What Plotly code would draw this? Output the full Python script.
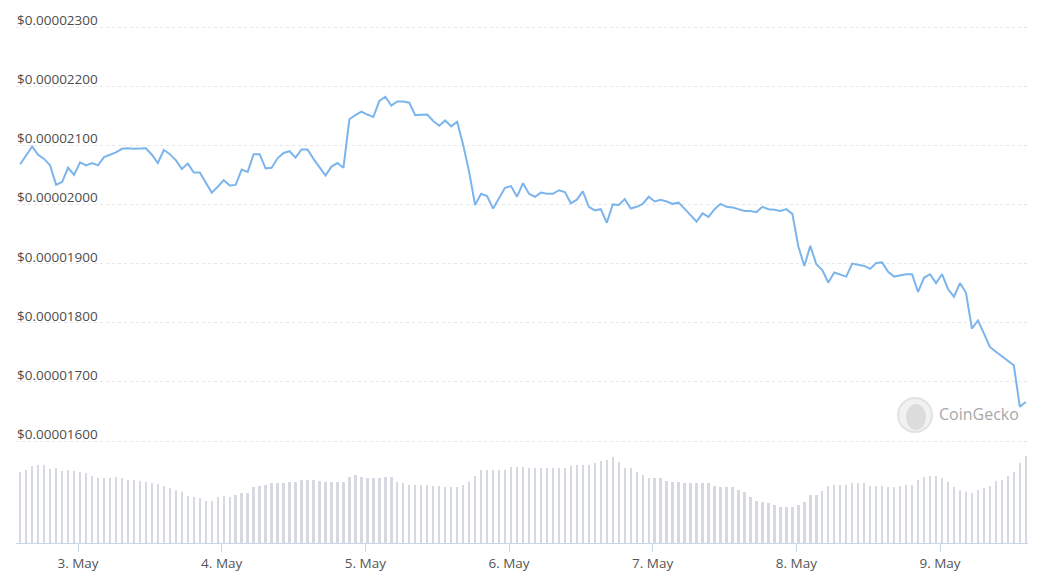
import pandas as pd
import plotly.graph_objects as go

# ---- data (price in units of 1e-8 USD, hourly) ----
start_time = "2022-05-02 14:20"
price_e8 = [
    2068, 2082, 2098, 2084, 2077, 2066, 2033, 2038, 2062, 2050,
    2071, 2066, 2070, 2066, 2080, 2084, 2088, 2094, 2095, 2094,
    2094, 2095, 2084, 2070, 2092, 2085, 2075, 2060, 2069, 2054,
    2054, 2038, 2020, 2030, 2041, 2032, 2033, 2059, 2055, 2085,
    2085, 2061, 2062, 2078, 2087, 2090, 2079, 2093, 2093, 2077,
    2062, 2049, 2064, 2070, 2062, 2144, 2151, 2157, 2152, 2148,
    2175, 2182, 2167, 2174, 2174, 2172, 2151, 2151, 2152, 2141,
    2133, 2142, 2132, 2140, 2101, 2055, 1999, 2018, 2014, 1993,
    2010, 2028, 2031, 2013, 2036, 2018, 2013, 2020, 2018, 2018,
    2024, 2021, 2002, 2008, 2022, 1996, 1990, 1992, 1969, 2000,
    1999, 2009, 1993, 1996, 2001, 2013, 2005, 2008, 2005, 2001,
    2003, 1993, 1982, 1971, 1985, 1979, 1992, 2001, 1996, 1995,
    1992, 1989, 1989, 1987, 1996, 1992, 1991, 1989, 1992, 1984,
    1929, 1896, 1930, 1899, 1889, 1868, 1885, 1882, 1878, 1900,
    1898, 1896, 1891, 1901, 1902, 1886, 1878, 1880, 1882, 1882,
    1852, 1876, 1882, 1867, 1882, 1857, 1844, 1867, 1851, 1790,
    1804, 1782, 1759, 1751, 1743, 1735, 1728, 1658, 1666,
]
volume_rel = [
    71, 73.3, 77.3, 78.3, 78.3, 73.7, 74.7, 72.3, 73.3, 72.3,
    71.3, 69.7, 67.3, 65, 65, 65, 66, 64.7, 63.3, 63.3,
    62.3, 61, 60, 59, 57.3, 54.7, 52.7, 51.3, 47.3, 46,
    45, 42.3, 42.3, 46, 47.3, 46, 48.3, 50, 50, 56,
    57.3, 58.3, 60, 60, 60, 61, 61, 63.3, 63.3, 63.3,
    62.3, 61, 61, 61, 61, 66, 68.3, 66, 64.7, 64.7,
    64.7, 66, 66, 61, 59.7, 58.3, 58.3, 58.3, 58.3, 57.3,
    57.3, 56, 56, 56, 58.3, 61, 67.3, 73.3, 73.3, 73.3,
    73.3, 73.3, 76, 76, 76, 74.7, 74.7, 74.7, 74.7, 74.7,
    74.7, 74.7, 77.3, 78.3, 78.3, 78.3, 79.7, 82.3, 83.3, 86,
    81, 74.7, 74.7, 71, 68.3, 64.7, 64.7, 64.7, 62.3, 61,
    61, 59.7, 59.7, 59.7, 59.7, 59.7, 57.3, 56, 56, 56,
    53.3, 51, 46, 42.3, 41, 40, 38.3, 36, 36, 36,
    38.3, 41, 48.3, 48.3, 52.3, 57.3, 58.3, 58.3, 58.3, 59.7,
    59.7, 59.7, 57.3, 57.3, 57.3, 56, 56, 57.3, 58.3, 58.3,
    63.3, 66, 67.3, 67.3, 64.7, 61, 56, 53.3, 51, 50,
    53.3, 54.7, 57.3, 62.3, 63.3, 67.3, 71, 79.7, 87.3,
]
price_ticks_e8 = [1600, 1700, 1800, 1900, 2000, 2100, 2200, 2300]
x_ticks = ["2022-05-03", "2022-05-04", "2022-05-05", "2022-05-06",
           "2022-05-07", "2022-05-08", "2022-05-09"]

times = pd.date_range(start_time, periods=len(price_e8), freq="h")
prices = [p * 1e-8 for p in price_e8]
tickvals = [t * 1e-8 for t in price_ticks_e8]
ticktext = ["${:.8f}".format(v) for v in tickvals]

# page has an 8px body margin: figure coordinates = page coordinates - 8
OFF = 8
W, H = 1042 - OFF, 575 - OFF
ML, MR, MT, MB = 16 - OFF, 14, 4, 575 - 543
plot_h = H - MT - MB
vol_h = 95
vol_frac = vol_h / plot_h

# price axis (page px): 1600 at 441, 2300 at 27
upp = 700.0 / 414.0  # units per px
y_top_page = MT + OFF
y_bot_page = 543 - vol_h
price_lo = 1600 - (y_bot_page - 441) * upp
price_hi = 2300 + (27 - y_top_page) * upp

fig = go.Figure()
fig.add_trace(go.Bar(
    x=times, y=volume_rel, yaxis="y2",
    marker=dict(color="#d6d9e0", line=dict(width=0)),
    width=0.4 * 3600 * 1000, hoverinfo="skip",
))
fig.add_trace(go.Scatter(
    x=times, y=prices, mode="lines",
    line=dict(color="#7cb5ec", width=2),
))

fig.update_layout(
    width=W, height=H,
    margin=dict(l=ML, r=MR, t=MT, b=MB),
    paper_bgcolor="white", plot_bgcolor="white",
    showlegend=False,
    font=dict(family="Open Sans, sans-serif", color="#555555"),
    xaxis=dict(
        type="date", anchor="y2", automargin=False,
        range=["2022-05-02 13:38", "2022-05-09 14:42"],
        tickvals=x_ticks, tickformat="%-d. %b",
        ticks="outside", ticklen=8, tickcolor="#ccd6eb",
        showline=True, linecolor="#ccd6eb", linewidth=1,
        showgrid=False, zeroline=False,
        tickfont=dict(size=13.5, color="#555555"),
    ),
    yaxis=dict(
        domain=[vol_frac, 1], automargin=False,
        range=[price_lo * 1e-8, price_hi * 1e-8],
        tickvals=tickvals, showticklabels=False,
        showgrid=True, gridcolor="#e6e6e6", griddash="dot", gridwidth=1,
        zeroline=False, showline=False, ticks="",
    ),
    yaxis2=dict(
        domain=[0, vol_frac],
        range=[0, vol_h],
        visible=False, showgrid=False, zeroline=False,
        fixedrange=True,
    ),
    bargap=0,
)

# price labels sit just above their gridlines, inside the plot
for v, t in zip(tickvals, ticktext):
    fig.add_annotation(text=t, xref="paper", yref="y", x=0, y=v,
                       xanchor="left", yanchor="middle", xshift=-1, yshift=7,
                       showarrow=False,
                       font=dict(size=13.5, color="#4d4d4d",
                                 family="Open Sans, sans-serif"))

def px_x(p):
    return (p - OFF - ML) / (W - ML - MR)

def px_y(p):
    return (H - MB - (p - OFF)) / plot_h

# CoinGecko watermark
fig.add_shape(type="circle", xref="paper", yref="paper",
              x0=px_x(898), x1=px_x(932), y0=px_y(432), y1=px_y(398),
              fillcolor="#f1f1f1", line=dict(color="#e2e2e2", width=2))
fig.add_shape(type="circle", xref="paper", yref="paper",
              x0=px_x(906), x1=px_x(926), y0=px_y(430), y1=px_y(404),
              fillcolor="#dcdcdc", line=dict(width=0))
fig.add_annotation(text="CoinGecko", xref="paper", yref="paper",
                   x=px_x(937), y=px_y(414), xanchor="left", yanchor="middle",
                   showarrow=False,
                   font=dict(size=16, color="#a8a8a8", family="Open Sans, sans-serif"))

fig.write_html("out.html")
